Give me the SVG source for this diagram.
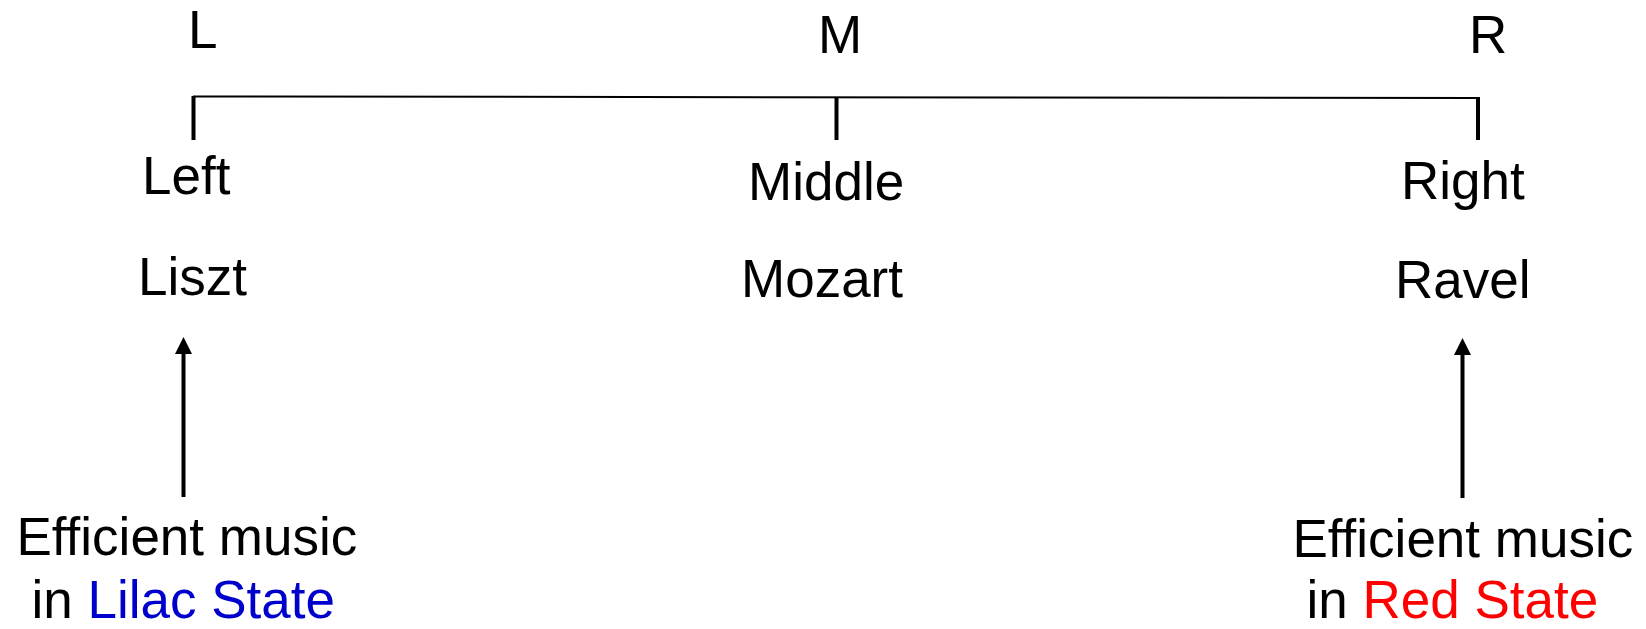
<svg xmlns="http://www.w3.org/2000/svg" width="1646" height="629" viewBox="0 0 1646 629">
<style>
text{font-family:"Liberation Sans",Arial,sans-serif;font-size:53px;fill:#000}
.blue{fill:#0000CC}
.red{fill:#FF0000}
.axis{stroke:#000;stroke-width:2;fill:none}
.tick{stroke:#000;stroke-width:4;fill:none}
.shaft{stroke:#000;stroke-width:4;fill:none}
.head{fill:#000}
</style>
<g id="connectors">
<line class="axis" x1="193" y1="96.5" x2="1478" y2="98"/>
<line class="tick" x1="193.5" y1="96" x2="193.5" y2="140"/>
<line class="tick" x1="836.5" y1="97" x2="836.5" y2="140"/>
<line class="tick" x1="1478" y1="97" x2="1478" y2="140"/>
<line class="shaft" x1="183.5" y1="497" x2="183.5" y2="350"/>
<polygon class="head" points="183.5,337 192,354 175,354"/>
<line class="shaft" x1="1462.5" y1="498" x2="1462.5" y2="351"/>
<polygon class="head" points="1462.5,338 1471,355 1454,355"/>
</g>
<g id="node-L"><text x="188" y="48">L</text></g>
<g id="node-M"><text x="818" y="53">M</text></g>
<g id="node-R"><text x="1469" y="53">R</text></g>
<g id="node-left"><text x="142" y="194">Left</text><text x="138" y="295">Liszt</text></g>
<g id="node-middle"><text x="748" y="200">Middle</text><text x="741" y="297">Mozart</text></g>
<g id="node-right"><text x="1401" y="199">Right</text><text x="1395" y="298">Ravel</text></g>
<g id="node-lilac"><text x="16.5" y="555">Efficient music</text><text x="31.5" y="618">in <tspan class="blue">Lilac State</tspan></text></g>
<g id="node-red"><text x="1292.5" y="557">Efficient music</text><text x="1306.5" y="618">in <tspan class="red">Red State</tspan></text></g>
</svg>
